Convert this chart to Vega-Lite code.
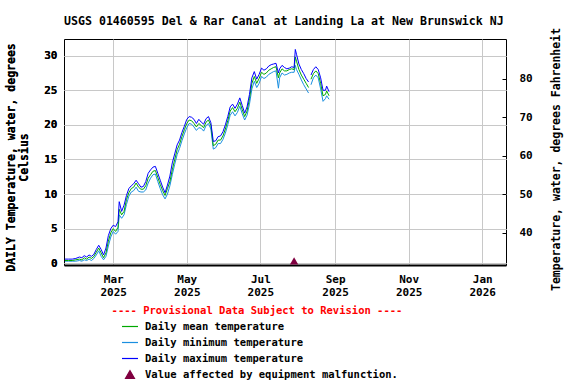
{
  "$schema": "https://vega.github.io/schema/vega-lite/v6.json",
  "autosize": {"type": "none"},
  "padding": {"left": 64, "top": 39, "right": 70, "bottom": 119},
  "width": 442,
  "height": 226,
  "background": "white",
  "title": {
    "text": "USGS 01460595 Del & Rar Canal at Landing La at New Brunswick NJ",
    "anchor": "start",
    "frame": "group",
    "font": "DejaVu Sans Mono",
    "fontSize": 11.6,
    "fontWeight": "bold",
    "color": "black",
    "offset": 0
  },
  "config": {
    "view": {"stroke": "black", "strokeWidth": 1},
    "axis": {
      "labelFont": "DejaVu Sans Mono",
      "labelFontWeight": "bold",
      "labelFontSize": 11,
      "labelColor": "black",
      "titleFont": "DejaVu Sans Mono",
      "titleFontWeight": "bold",
      "titleFontSize": 11.5,
      "titleColor": "black",
      "gridColor": "#c8c8c8",
      "gridWidth": 1,
      "gridOpacity": 1
    }
  },
  "datasets": {
    "temps": [
      {"date": "2025-01-20", "mean": 0.4, "min": 0.3, "max": 0.6},
      {"date": "2025-01-23", "mean": 0.4, "min": 0.3, "max": 0.6},
      {"date": "2025-01-26", "mean": 0.4, "min": 0.3, "max": 0.6},
      {"date": "2025-01-29", "mean": 0.5, "min": 0.3, "max": 0.7},
      {"date": "2025-02-01", "mean": 0.6, "min": 0.4, "max": 0.9},
      {"date": "2025-02-03", "mean": 0.5, "min": 0.3, "max": 0.8},
      {"date": "2025-02-05", "mean": 0.8, "min": 0.5, "max": 1.1},
      {"date": "2025-02-07", "mean": 0.6, "min": 0.4, "max": 0.9},
      {"date": "2025-02-09", "mean": 0.9, "min": 0.6, "max": 1.2},
      {"date": "2025-02-11", "mean": 0.7, "min": 0.4, "max": 1.0},
      {"date": "2025-02-13", "mean": 1.0, "min": 0.7, "max": 1.3},
      {"date": "2025-02-15", "mean": 1.6, "min": 1.2, "max": 2.0},
      {"date": "2025-02-17", "mean": 2.2, "min": 1.8, "max": 2.6},
      {"date": "2025-02-19", "mean": 1.5, "min": 1.0, "max": 2.0},
      {"date": "2025-02-21", "mean": 0.8, "min": 0.5, "max": 1.2},
      {"date": "2025-02-23", "mean": 1.5, "min": 1.0, "max": 2.2},
      {"date": "2025-02-25", "mean": 3.2, "min": 2.5, "max": 4.0},
      {"date": "2025-02-27", "mean": 4.4, "min": 3.8, "max": 5.0},
      {"date": "2025-03-01", "mean": 5.0, "min": 4.6, "max": 5.5},
      {"date": "2025-03-03", "mean": 4.6, "min": 4.2, "max": 5.3},
      {"date": "2025-03-05", "mean": 5.2, "min": 4.6, "max": 6.0},
      {"date": "2025-03-06", "mean": 7.8, "min": 7.0, "max": 8.9},
      {"date": "2025-03-08", "mean": 7.0, "min": 6.5, "max": 7.5},
      {"date": "2025-03-10", "mean": 7.5, "min": 7.0, "max": 8.4},
      {"date": "2025-03-12", "mean": 9.2, "min": 8.5, "max": 9.8},
      {"date": "2025-03-14", "mean": 10.2, "min": 9.7, "max": 10.8},
      {"date": "2025-03-16", "mean": 10.8, "min": 10.3, "max": 11.2},
      {"date": "2025-03-18", "mean": 11.0, "min": 10.5, "max": 11.5},
      {"date": "2025-03-20", "mean": 11.6, "min": 11.0, "max": 12.0},
      {"date": "2025-03-22", "mean": 11.0, "min": 10.4, "max": 11.5},
      {"date": "2025-03-24", "mean": 10.7, "min": 10.3, "max": 11.0},
      {"date": "2025-03-26", "mean": 10.7, "min": 10.3, "max": 11.1},
      {"date": "2025-03-28", "mean": 11.2, "min": 10.6, "max": 11.8},
      {"date": "2025-03-30", "mean": 12.3, "min": 11.6, "max": 13.0},
      {"date": "2025-04-01", "mean": 12.8, "min": 12.3, "max": 13.5},
      {"date": "2025-04-03", "mean": 13.3, "min": 12.8, "max": 13.9},
      {"date": "2025-04-05", "mean": 13.4, "min": 12.9, "max": 14.0},
      {"date": "2025-04-07", "mean": 12.4, "min": 11.8, "max": 13.0},
      {"date": "2025-04-09", "mean": 11.4, "min": 10.8, "max": 12.0},
      {"date": "2025-04-11", "mean": 10.5, "min": 9.9, "max": 11.0},
      {"date": "2025-04-13", "mean": 9.8, "min": 9.3, "max": 10.2},
      {"date": "2025-04-15", "mean": 10.8, "min": 10.0, "max": 11.3},
      {"date": "2025-04-17", "mean": 11.8, "min": 11.2, "max": 12.6},
      {"date": "2025-04-19", "mean": 13.5, "min": 12.8, "max": 14.5},
      {"date": "2025-04-21", "mean": 15.0, "min": 14.3, "max": 15.8},
      {"date": "2025-04-23", "mean": 16.4, "min": 15.7, "max": 17.1},
      {"date": "2025-04-25", "mean": 17.2, "min": 16.6, "max": 17.8},
      {"date": "2025-04-27", "mean": 18.3, "min": 17.7, "max": 18.9},
      {"date": "2025-04-29", "mean": 19.3, "min": 18.7, "max": 19.8},
      {"date": "2025-05-01", "mean": 20.2, "min": 19.6, "max": 20.8},
      {"date": "2025-05-03", "mean": 20.7, "min": 20.2, "max": 21.2},
      {"date": "2025-05-05", "mean": 20.6, "min": 20.1, "max": 21.1},
      {"date": "2025-05-07", "mean": 20.2, "min": 19.7, "max": 20.8},
      {"date": "2025-05-09", "mean": 19.7, "min": 19.2, "max": 20.2},
      {"date": "2025-05-11", "mean": 20.2, "min": 19.6, "max": 20.8},
      {"date": "2025-05-13", "mean": 19.9, "min": 19.5, "max": 20.4},
      {"date": "2025-05-15", "mean": 19.6, "min": 19.1, "max": 20.1},
      {"date": "2025-05-17", "mean": 20.4, "min": 19.9, "max": 20.9},
      {"date": "2025-05-19", "mean": 20.7, "min": 20.2, "max": 21.2},
      {"date": "2025-05-21", "mean": 19.9, "min": 19.4, "max": 20.3},
      {"date": "2025-05-23", "mean": 17.0, "min": 16.5, "max": 17.6},
      {"date": "2025-05-25", "mean": 17.2, "min": 16.7, "max": 17.7},
      {"date": "2025-05-27", "mean": 17.8, "min": 17.3, "max": 18.3},
      {"date": "2025-05-29", "mean": 17.8, "min": 17.3, "max": 18.4},
      {"date": "2025-05-31", "mean": 18.4, "min": 17.9, "max": 19.0},
      {"date": "2025-06-02", "mean": 19.4, "min": 18.8, "max": 20.0},
      {"date": "2025-06-04", "mean": 20.6, "min": 20.0, "max": 21.2},
      {"date": "2025-06-06", "mean": 22.0, "min": 21.4, "max": 22.6},
      {"date": "2025-06-08", "mean": 22.5, "min": 21.9, "max": 23.0},
      {"date": "2025-06-10", "mean": 21.9, "min": 21.3, "max": 22.4},
      {"date": "2025-06-12", "mean": 22.4, "min": 21.8, "max": 23.0},
      {"date": "2025-06-14", "mean": 23.3, "min": 22.7, "max": 23.9},
      {"date": "2025-06-16", "mean": 22.2, "min": 21.6, "max": 22.8},
      {"date": "2025-06-18", "mean": 21.2, "min": 20.7, "max": 21.7},
      {"date": "2025-06-20", "mean": 22.0, "min": 21.4, "max": 22.6},
      {"date": "2025-06-22", "mean": 23.8, "min": 23.0, "max": 24.4},
      {"date": "2025-06-24", "mean": 26.0, "min": 25.2, "max": 26.8},
      {"date": "2025-06-26", "mean": 27.0, "min": 26.3, "max": 27.7},
      {"date": "2025-06-28", "mean": 26.0, "min": 25.4, "max": 26.6},
      {"date": "2025-06-30", "mean": 26.7, "min": 26.0, "max": 27.3},
      {"date": "2025-07-02", "mean": 27.6, "min": 27.0, "max": 28.2},
      {"date": "2025-07-04", "mean": 27.3, "min": 26.7, "max": 27.9},
      {"date": "2025-07-06", "mean": 27.5, "min": 26.9, "max": 28.1},
      {"date": "2025-07-08", "mean": 27.9, "min": 27.3, "max": 28.5},
      {"date": "2025-07-10", "mean": 28.1, "min": 27.5, "max": 28.7},
      {"date": "2025-07-12", "mean": 28.3, "min": 27.7, "max": 28.8},
      {"date": "2025-07-14", "mean": 28.4, "min": 27.8, "max": 28.9},
      {"date": "2025-07-16", "mean": 26.8, "min": 25.3, "max": 27.5},
      {"date": "2025-07-17", "mean": 27.5, "min": 26.8, "max": 28.1},
      {"date": "2025-07-19", "mean": 28.1, "min": 27.5, "max": 28.6},
      {"date": "2025-07-21", "mean": 27.8, "min": 27.2, "max": 28.3},
      {"date": "2025-07-23", "mean": 27.8, "min": 27.3, "max": 28.1},
      {"date": "2025-07-25", "mean": 28.0, "min": 27.5, "max": 28.2},
      {"date": "2025-07-27", "mean": 28.1, "min": 27.6, "max": 28.4},
      {"date": "2025-07-29", "mean": 28.0, "min": 27.6, "max": 28.3},
      {"date": "2025-07-30", "mean": 29.8, "min": 28.6, "max": 30.9},
      {"date": "2025-07-31", "mean": 29.2, "min": 28.0, "max": 30.2},
      {"date": "2025-08-02", "mean": 28.0, "min": 27.3, "max": 28.8},
      {"date": "2025-08-04", "mean": 27.2, "min": 26.5, "max": 28.0},
      {"date": "2025-08-06", "mean": 26.6, "min": 25.8, "max": 27.4},
      {"date": "2025-08-08", "mean": 26.0, "min": 25.2, "max": 26.7},
      {"date": "2025-08-10", "mean": 25.4, "min": 24.6, "max": 26.2},
      {"date": "2025-08-11", "mean": null, "min": null, "max": null},
      {"date": "2025-08-12", "mean": 26.6, "min": 25.8, "max": 27.2},
      {"date": "2025-08-14", "mean": 27.4, "min": 26.8, "max": 28.0},
      {"date": "2025-08-16", "mean": 27.8, "min": 27.2, "max": 28.4},
      {"date": "2025-08-18", "mean": 27.4, "min": 26.8, "max": 28.0},
      {"date": "2025-08-20", "mean": 26.0, "min": 25.2, "max": 26.8},
      {"date": "2025-08-22", "mean": 24.2, "min": 23.4, "max": 25.0},
      {"date": "2025-08-24", "mean": 24.4, "min": 23.8, "max": 25.0},
      {"date": "2025-08-25", "mean": 24.9, "min": 24.2, "max": 25.6},
      {"date": "2025-08-27", "mean": 24.2, "min": 23.7, "max": 24.8}
    ],
    "flags": [
      {"date": "2025-07-29", "value": 0.33}
    ],
    "fahrenheit": [
      {"f": 40},
      {"f": 80}
    ]
  },
  "resolve": {"scale": {"y": "independent"}, "axis": {"y": "independent"}},
  "layer": [
    {
      "data": {"name": "temps"},
      "layer": [
        {
          "mark": {"type": "line", "strokeWidth": 1, "invalid": "break-paths-show-domains"},
          "encoding": {
            "x": {"field": "date", "type": "temporal"},
            "y": {"field": "min", "type": "quantitative"},
            "color": {"datum": "Daily minimum temperature"}
          }
        },
        {
          "mark": {"type": "line", "strokeWidth": 1, "invalid": "break-paths-show-domains"},
          "encoding": {
            "x": {"field": "date", "type": "temporal"},
            "y": {"field": "mean", "type": "quantitative"},
            "color": {"datum": "Daily mean temperature"}
          }
        },
        {
          "mark": {"type": "line", "strokeWidth": 1, "invalid": "break-paths-show-domains"},
          "encoding": {
            "x": {"field": "date", "type": "temporal"},
            "y": {"field": "max", "type": "quantitative"},
            "color": {"datum": "Daily maximum temperature"}
          }
        }
      ]
    },
    {
      "data": {"name": "flags"},
      "mark": {"type": "point", "shape": "triangle-up", "filled": true, "size": 70, "opacity": 1},
      "encoding": {
        "x": {"field": "date", "type": "temporal"},
        "y": {"field": "value", "type": "quantitative"},
        "color": {"datum": "Value affected by equipment malfunction."}
      }
    },
    {
      "data": {"name": "fahrenheit"},
      "mark": {"type": "rule", "opacity": 0},
      "encoding": {
        "y": {
          "field": "f",
          "type": "quantitative",
          "scale": {"domain": [31.55, 90.34], "nice": false, "zero": false},
          "axis": {
            "orient": "right",
            "title": "Temperature, water, degrees Fahrenheit",
            "titleAngle": -90,
            "titlePadding": 29,
            "titleY": 120,
            "values": [40, 50, 60, 70, 80],
            "grid": false,
            "domain": false,
            "ticks": true,
            "tickSize": -4,
            "tickColor": "black",
            "labelPadding": 17
          }
        }
      }
    }
  ],
  "encoding": {
    "x": {
      "field": "date",
      "type": "temporal",
      "scale": {
        "type": "utc",
        "domain": [
          {"year": 2025, "month": 1, "date": 19, "hours": 5, "utc": true},
          {"year": 2026, "month": 1, "date": 20, "hours": 17, "utc": true}
        ]
      },
      "axis": {
        "title": null,
        "values": [
          {"year": 2025, "month": 3, "date": 1, "utc": true},
          {"year": 2025, "month": 5, "date": 1, "utc": true},
          {"year": 2025, "month": 7, "date": 1, "utc": true},
          {"year": 2025, "month": 9, "date": 1, "utc": true},
          {"year": 2025, "month": 11, "date": 1, "utc": true},
          {"year": 2026, "month": 1, "date": 1, "utc": true}
        ],
        "labelExpr": "[utcFormat(datum.value, '%b'), utcFormat(datum.value, '%Y')]",
        "labelLineHeight": 13,
        "labelPadding": 8,
        "ticks": false,
        "grid": true,
        "domain": true,
        "domainColor": "black",
        "domainWidth": 2
      }
    },
    "y": {
      "type": "quantitative",
      "scale": {"domain": [-0.25, 32.41], "nice": false, "zero": false},
      "axis": {
        "orient": "left",
        "title": ["DAILY Temperature, water, degrees", "Celsius"],
        "titlePadding": 14,
        "titleLineHeight": 13.5,
        "titleY": 118,
        "values": [0, 5, 10, 15, 20, 25, 30],
        "grid": true,
        "ticks": false,
        "domain": false,
        "labelPadding": 7
      }
    },
    "color": {
      "type": "nominal",
      "scale": {
        "domain": ["Daily mean temperature", "Daily minimum temperature", "Daily maximum temperature", "Value affected by equipment malfunction."],
        "range": ["#00a800", "#1a8fe0", "#0000ff", "#800040"]
      },
      "legend": {
        "orient": "none",
        "legendX": 48,
        "legendY": 267,
        "title": "---- Provisional Data Subject to Revision ----",
        "titleFont": "DejaVu Sans Mono",
        "titleFontWeight": "bold",
        "titleFontSize": 10.5,
        "titleColor": "#ff0000",
        "titleAnchor": "middle",
        "titleAlign": "center",
        "titleLimit": 600,
        "titlePadding": 1,
        "labelFont": "DejaVu Sans Mono",
        "labelFontWeight": "bold",
        "labelFontSize": 10.5,
        "labelColor": "black",
        "labelLimit": 600,
        "labelOffset": 6,
        "symbolOffset": 5,
        "symbolSize": 256,
        "symbolType": "stroke",
        "symbolStrokeWidth": 1.2,
        "rowPadding": 1,
        "padding": 0,
        "encode": {
          "symbols": {
            "update": {
              "shape": {"signal": "datum.value === 'Value affected by equipment malfunction.' ? 'triangle-up' : 'stroke'"},
              "size": {"signal": "datum.value === 'Value affected by equipment malfunction.' ? 80 : 256"},
              "fill": {"signal": "datum.value === 'Value affected by equipment malfunction.' ? '#800040' : 'transparent'"},
              "stroke": {"signal": "datum.value === 'Value affected by equipment malfunction.' ? 'transparent' : scale('color', datum.value)"},
              "strokeWidth": {"value": 1.2},
              "opacity": {"value": 1}
            }
          }
        }
      }
    }
  }
}
